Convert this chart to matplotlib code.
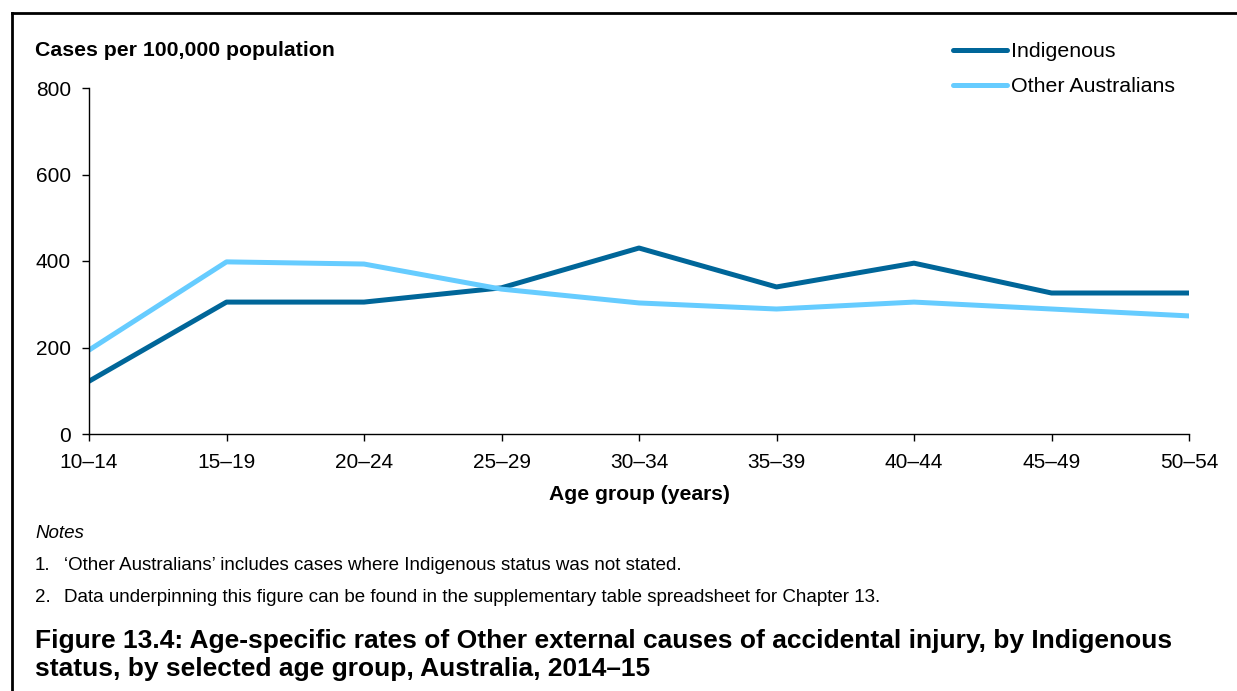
import matplotlib.pyplot as plt
from matplotlib.lines import Line2D

plt.rcParams['font.family'] = ['Liberation Sans', 'DejaVu Sans']

## Data
age_groups = ['10–14', '15–19', '20–24', '25–29', '30–34',
              '35–39', '40–44', '45–49', '50–54']
indigenous = [122, 305, 305, 338, 430, 340, 395, 326, 326]
other_aus = [194, 398, 393, 335, 303, 289, 305, 289, 273]
y_ticks = [0, 200, 400, 600, 800]

notes = ["‘Other Australians’ includes cases where Indigenous status was not stated.",
         "Data underpinning this figure can be found in the supplementary table spreadsheet for Chapter 13."]
title_lines = ["Figure 13.4: Age-specific rates of Other external causes of accidental injury, by Indigenous",
               "status, by selected age group, Australia, 2014–15"]

W, H = 1237, 691
fig = plt.figure(figsize=(W / 100, H / 100), dpi=100)
ax = fig.add_axes([89 / W, 1 - 434 / H, (1189 - 89) / W, (434 - 88) / H])

x = range(len(age_groups))
ax.plot(x, indigenous, color='#006699', lw=3.6, label='Indigenous', solid_capstyle='round')
ax.plot(x, other_aus, color='#66CCFF', lw=3.6, label='Other Australians', solid_capstyle='round')

ax.set_xlim(0, len(age_groups) - 1)
ax.set_ylim(0, 800)
ax.set_xticks(list(x))
ax.set_xticklabels(age_groups)
ax.set_yticks(y_ticks)
for side in ['top', 'right']:
    ax.spines[side].set_visible(False)
for side in ['left', 'bottom']:
    ax.spines[side].set_linewidth(1.0)
ax.tick_params(axis='both', labelsize=15, length=5, width=1.0, direction='out')
ax.tick_params(axis='x', pad=9)
ax.tick_params(axis='y', pad=8)
ax.set_xlabel('Age group (years)', fontsize=15.2, fontweight='bold', labelpad=9)

leg = ax.legend(loc='upper left', bbox_to_anchor=(934 / W, 1 - 23 / H),
                bbox_transform=fig.transFigure, frameon=False, fontsize=15.4,
                handlelength=2.5, handletextpad=0.2, labelspacing=0.75)

fig.text(35 / W, 1 - 50 / H, 'Cases per 100,000 population', fontsize=15.3,
         fontweight='bold', va='center', ha='left')

# notes and caption
fig.text(35 / W, 1 - 534 / H, 'Notes', fontsize=13.5, style='italic', va='center')
for i, note in enumerate(notes):
    yy = 1 - (566 + 32 * i) / H
    fig.text(35 / W, yy, f'{i + 1}.', fontsize=13.5, va='center')
    fig.text(64 / W, yy, note, fontsize=13.5, va='center')
for i, line in enumerate(title_lines):
    fig.text(35 / W, 1 - (641 + 28 * i) / H, line, fontsize=19, fontweight='bold',
             va='center')

# frame lines (top and left)
fig.add_artist(Line2D([11.5 / W, 1], [1 - 12.5 / H, 1 - 12.5 / H], color='black', lw=2,
                      transform=fig.transFigure))
fig.add_artist(Line2D([11.5 / W, 11.5 / W], [0, 1 - 12.5 / H], color='black', lw=2,
                      transform=fig.transFigure))

fig.savefig('out.png', dpi=100)
